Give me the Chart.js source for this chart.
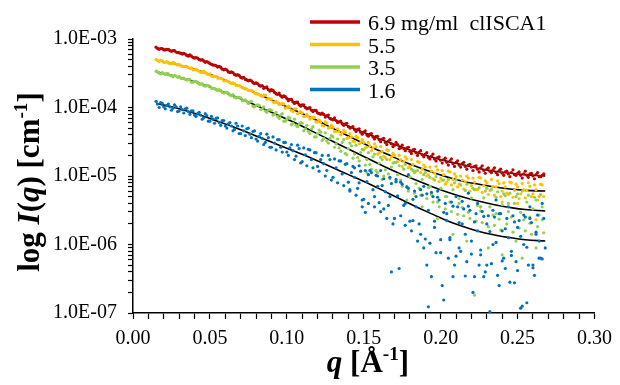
<!DOCTYPE html>
<html>
<head>
<meta charset="utf-8">
<script src="https://cdn.jsdelivr.net/npm/chart.js@4.4.0/dist/chart.umd.min.js"></script>
<style>
  html, body { margin: 0; padding: 0; background: #fff; }
  #wrap { width: 620px; height: 385px; position: relative; }
</style>
</head>
<body>
<div id="wrap"><canvas id="saxsChart"></canvas></div>
<script>
// q values [1/A], two interleaved grids of the measured curves
const qValues = [
  0.015, 0.017, 0.019, 0.021, 0.023, 0.025, 0.027, 0.029, 0.031, 0.033,
  0.035, 0.037, 0.039, 0.041, 0.043, 0.045, 0.047, 0.049, 0.051, 0.053,
  0.055, 0.057, 0.059, 0.061, 0.063, 0.065, 0.067, 0.069, 0.071, 0.073,
  0.075, 0.077, 0.079, 0.081, 0.083, 0.085, 0.087, 0.089, 0.091, 0.093,
  0.095, 0.097, 0.099, 0.101, 0.103, 0.105, 0.107, 0.109, 0.111, 0.113,
  0.115, 0.117, 0.119, 0.121, 0.123, 0.125, 0.127, 0.129, 0.131, 0.133,
  0.135, 0.137, 0.139, 0.141, 0.143, 0.145, 0.147, 0.149, 0.151, 0.153,
  0.155, 0.157, 0.159, 0.161, 0.163, 0.165, 0.167, 0.169, 0.171, 0.173,
  0.175, 0.177, 0.179, 0.181, 0.183, 0.185, 0.187, 0.189, 0.191, 0.193,
  0.195, 0.197, 0.199, 0.201, 0.203, 0.205, 0.207, 0.209, 0.211, 0.213,
  0.215, 0.217, 0.219, 0.221, 0.223, 0.225, 0.227, 0.229, 0.231, 0.233,
  0.235, 0.237, 0.239, 0.241, 0.243, 0.245, 0.247, 0.249, 0.251, 0.253,
  0.255, 0.257, 0.259, 0.261, 0.263, 0.265, 0.267
];
const qValuesB = [
  0.016, 0.018, 0.020, 0.022, 0.024, 0.026, 0.028, 0.030, 0.032, 0.034,
  0.036, 0.038, 0.040, 0.042, 0.044, 0.046, 0.048, 0.050, 0.052, 0.054,
  0.056, 0.058, 0.060, 0.062, 0.064, 0.066, 0.068, 0.070, 0.072, 0.074,
  0.076, 0.078, 0.080, 0.082, 0.084, 0.086, 0.088, 0.090, 0.092, 0.094,
  0.096, 0.098, 0.100, 0.102, 0.104, 0.106, 0.108, 0.110, 0.112, 0.114,
  0.116, 0.118, 0.120, 0.122, 0.124, 0.126, 0.128, 0.130, 0.132, 0.134,
  0.136, 0.138, 0.140, 0.142, 0.144, 0.146, 0.148, 0.150, 0.152, 0.154,
  0.156, 0.158, 0.160, 0.162, 0.164, 0.166, 0.168, 0.170, 0.172, 0.174,
  0.176, 0.178, 0.180, 0.182, 0.184, 0.186, 0.188, 0.190, 0.192, 0.194,
  0.196, 0.198, 0.200, 0.202, 0.204, 0.206, 0.208, 0.210, 0.212, 0.214,
  0.216, 0.218, 0.220, 0.222, 0.224, 0.226, 0.228, 0.230, 0.232, 0.234,
  0.236, 0.238, 0.240, 0.242, 0.244, 0.246, 0.248, 0.250, 0.252, 0.254,
  0.256, 0.258, 0.260, 0.262, 0.264, 0.266
];

// measured intensities, stored as log10(I [1/cm]) - grid A
const logI_69 = [
  -3.12, -3.15, -3.14, -3.16, -3.15, -3.18, -3.17, -3.20, -3.21, -3.21,
  -3.24, -3.23, -3.27, -3.27, -3.30, -3.30, -3.34, -3.34, -3.37, -3.38,
  -3.41, -3.41, -3.45, -3.45, -3.49, -3.49, -3.53, -3.53, -3.57, -3.59,
  -3.61, -3.61, -3.65, -3.65, -3.69, -3.72, -3.70, -3.76, -3.75, -3.80,
  -3.79, -3.85, -3.84, -3.90, -3.88, -3.94, -3.92, -3.98, -3.96, -4.02,
  -4.00, -4.06, -4.04, -4.09, -4.08, -4.14, -4.11, -4.17, -4.15, -4.22,
  -4.20, -4.26, -4.23, -4.30, -4.28, -4.35, -4.31, -4.39, -4.34, -4.42,
  -4.38, -4.46, -4.42, -4.50, -4.45, -4.54, -4.47, -4.57, -4.51, -4.60,
  -4.55, -4.63, -4.58, -4.67, -4.61, -4.70, -4.63, -4.72, -4.66, -4.75,
  -4.68, -4.78, -4.72, -4.81, -4.74, -4.84, -4.75, -4.86, -4.78, -4.87,
  -4.80, -4.90, -4.83, -4.92, -4.85, -4.94, -4.85, -4.96, -4.88, -4.95,
  -4.88, -4.98, -4.90, -4.99, -4.93, -5.01, -4.91, -4.99, -4.94, -5.03,
  -4.93, -5.02, -4.96, -5.04, -4.95, -5.01, -4.97
];
const logI_55 = [
  -3.30, -3.33, -3.32, -3.34, -3.35, -3.36, -3.35, -3.38, -3.39, -3.40,
  -3.40, -3.43, -3.45, -3.44, -3.47, -3.49, -3.49, -3.52, -3.54, -3.54,
  -3.57, -3.57, -3.61, -3.61, -3.64, -3.64, -3.68, -3.68, -3.71, -3.73,
  -3.75, -3.75, -3.79, -3.80, -3.83, -3.82, -3.88, -3.87, -3.92, -3.91,
  -3.96, -3.94, -4.01, -3.98, -4.04, -4.02, -4.09, -4.06, -4.13, -4.10,
  -4.17, -4.14, -4.21, -4.18, -4.26, -4.21, -4.30, -4.26, -4.35, -4.31,
  -4.40, -4.33, -4.45, -4.38, -4.49, -4.42, -4.53, -4.47, -4.59, -4.51,
  -4.63, -4.53, -4.68, -4.57, -4.71, -4.62, -4.76, -4.67, -4.80, -4.70,
  -4.86, -4.72, -4.88, -4.76, -4.93, -4.79, -4.95, -4.84, -5.00, -4.87,
  -5.04, -4.86, -5.08, -4.92, -5.12, -4.93, -5.13, -4.97, -5.16, -5.00,
  -5.19, -5.00, -5.22, -5.03, -5.20, -5.02, -5.24, -5.07, -5.27, -5.05,
  -5.28, -5.07, -5.30, -5.10, -5.25, -5.09, -5.31, -5.12, -5.33, -5.11,
  -5.32, -5.10, -5.30, -5.13, -5.35, -5.12, -5.30
];
const logI_35 = [
  -3.47, -3.50, -3.49, -3.52, -3.51, -3.54, -3.53, -3.56, -3.57, -3.57,
  -3.60, -3.59, -3.63, -3.62, -3.66, -3.65, -3.69, -3.68, -3.72, -3.72,
  -3.75, -3.75, -3.79, -3.78, -3.82, -3.81, -3.86, -3.85, -3.90, -3.89,
  -3.94, -3.91, -3.99, -3.96, -4.03, -3.99, -4.07, -4.03, -4.11, -4.07,
  -4.16, -4.09, -4.20, -4.14, -4.25, -4.17, -4.28, -4.22, -4.34, -4.26,
  -4.38, -4.28, -4.43, -4.33, -4.48, -4.37, -4.52, -4.41, -4.58, -4.46,
  -4.64, -4.47, -4.69, -4.52, -4.74, -4.55, -4.78, -4.61, -4.84, -4.66,
  -4.90, -4.68, -4.95, -4.73, -5.00, -4.76, -5.04, -4.81, -5.09, -4.85,
  -5.15, -4.83, -5.22, -4.90, -5.25, -4.92, -5.28, -4.98, -5.33, -5.02,
  -5.38, -5.01, -5.45, -5.06, -5.48, -5.05, -5.52, -5.10, -5.56, -5.13,
  -5.58, -5.12, -5.62, -5.18, -5.66, -5.17, -5.68, -5.22, -5.74, -5.20,
  -5.72, -5.23, -5.79, -5.26, -5.70, -5.25, -5.82, -5.30, -5.76, -5.22,
  -5.80, -5.28, -5.85, -5.31, -5.74, -5.27, -5.83
];
const logI_16 = [
  -3.91, -4.00, -3.94, -4.02, -3.95, -4.04, -3.96, -4.06, -3.99, -4.08,
  -4.01, -4.10, -4.05, -4.13, -4.07, -4.17, -4.09, -4.20, -4.13, -4.23,
  -4.15, -4.26, -4.19, -4.30, -4.22, -4.34, -4.23, -4.38, -4.27, -4.41,
  -4.30, -4.44, -4.34, -4.49, -4.38, -4.54, -4.39, -4.58, -4.43, -4.62,
  -4.47, -4.65, -4.51, -4.70, -4.54, -4.76, -4.55, -4.81, -4.59, -4.85,
  -4.62, -4.88, -4.66, -4.93, -4.70, -5.00, -4.70, -5.06, -4.75, -5.10,
  -4.78, -5.14, -4.82, -5.20, -4.86, -5.28, -4.85, -5.35, -4.92, -5.40,
  -4.95, -5.45, -5.00, -5.52, -5.04, -5.62, -5.02, -5.70, -5.08, -6.35,
  -5.12, -5.72, -5.18, -5.80, -5.22, -5.95, -5.20, -6.05, -5.26, -5.98,
  -5.30, -6.12, -5.35, -6.60, -5.40, -6.20, -5.38, -6.30, -5.45, -6.10,
  -5.48, -6.25, -5.50, -6.70, -5.55, -6.30, -5.52, -6.40, -5.58, -6.28,
  -5.60, -6.45, -5.55, -6.20, -5.62, -6.55, -5.58, -6.25, -5.65, -6.90,
  -5.60, -6.30, -5.68, -6.45, -5.57, -6.20, -5.62
];

// grid B
const logI_69b = [
  -3.14, -3.14, -3.16, -3.15, -3.17, -3.17, -3.19, -3.20, -3.22, -3.22,
  -3.25, -3.25, -3.28, -3.28, -3.31, -3.32, -3.33, -3.36, -3.38, -3.39,
  -3.40, -3.44, -3.44, -3.48, -3.48, -3.52, -3.52, -3.56, -3.56, -3.60,
  -3.60, -3.64, -3.64, -3.68, -3.68, -3.71, -3.74, -3.74, -3.78, -3.81,
  -3.83, -3.83, -3.87, -3.88, -3.92, -3.92, -3.96, -3.96, -4.00, -4.01,
  -4.04, -4.04, -4.08, -4.10, -4.10, -4.12, -4.16, -4.18, -4.19, -4.21,
  -4.24, -4.24, -4.28, -4.29, -4.32, -4.32, -4.36, -4.36, -4.40, -4.39,
  -4.43, -4.42, -4.47, -4.46, -4.51, -4.49, -4.53, -4.55, -4.54, -4.59,
  -4.60, -4.59, -4.64, -4.62, -4.66, -4.65, -4.69, -4.68, -4.73, -4.71,
  -4.75, -4.73, -4.77, -4.76, -4.80, -4.78, -4.82, -4.80, -4.84, -4.82,
  -4.86, -4.84, -4.87, -4.86, -4.90, -4.88, -4.92, -4.90, -4.93, -4.91,
  -4.95, -4.92, -4.96, -4.94, -4.97, -4.95, -4.98, -4.96, -4.99, -4.97,
  -4.99, -4.97, -5.00, -4.98, -5.01, -4.99
];
const logI_55b = [
  -3.31, -3.31, -3.34, -3.33, -3.36, -3.34, -3.37, -3.37, -3.40, -3.40,
  -3.42, -3.42, -3.45, -3.46, -3.49, -3.47, -3.51, -3.51, -3.55, -3.55,
  -3.57, -3.58, -3.61, -3.62, -3.65, -3.65, -3.68, -3.69, -3.72, -3.73,
  -3.75, -3.76, -3.80, -3.81, -3.84, -3.82, -3.87, -3.88, -3.93, -3.93,
  -3.95, -3.95, -4.00, -4.00, -4.06, -4.02, -4.07, -4.08, -4.13, -4.13,
  -4.15, -4.15, -4.21, -4.21, -4.27, -4.23, -4.29, -4.29, -4.35, -4.35,
  -4.37, -4.36, -4.44, -4.43, -4.50, -4.44, -4.51, -4.51, -4.58, -4.56,
  -4.59, -4.57, -4.66, -4.64, -4.73, -4.63, -4.72, -4.70, -4.79, -4.76,
  -4.79, -4.75, -4.86, -4.83, -4.93, -4.80, -4.90, -4.87, -4.98, -4.93,
  -4.96, -4.91, -5.03, -4.98, -5.09, -4.94, -5.05, -5.01, -5.12, -5.06,
  -5.08, -5.03, -5.14, -5.09, -5.20, -5.03, -5.14, -5.10, -5.21, -5.15,
  -5.16, -5.11, -5.22, -5.16, -5.27, -5.10, -5.21, -5.16, -5.26, -5.20,
  -5.21, -5.15, -5.26, -5.20, -5.30, -5.13
];
const logI_35b = [
  -3.48, -3.51, -3.50, -3.50, -3.53, -3.55, -3.54, -3.55, -3.58, -3.59,
  -3.59, -3.63, -3.62, -3.63, -3.66, -3.68, -3.68, -3.69, -3.72, -3.74,
  -3.74, -3.78, -3.78, -3.79, -3.83, -3.85, -3.85, -3.86, -3.90, -3.92,
  -3.92, -3.98, -3.97, -3.97, -4.02, -4.05, -4.04, -4.04, -4.10, -4.13,
  -4.11, -4.20, -4.17, -4.16, -4.23, -4.26, -4.24, -4.23, -4.31, -4.35,
  -4.31, -4.43, -4.38, -4.36, -4.45, -4.49, -4.45, -4.43, -4.53, -4.59,
  -4.51, -4.67, -4.60, -4.56, -4.68, -4.73, -4.66, -4.62, -4.76, -4.83,
  -4.72, -4.92, -4.81, -4.76, -4.91, -4.97, -4.87, -4.80, -4.98, -5.06,
  -4.90, -5.16, -5.01, -4.92, -5.11, -5.18, -5.05, -4.95, -5.17, -5.27,
  -5.06, -5.38, -5.18, -5.06, -5.30, -5.38, -5.20, -5.06, -5.33, -5.46,
  -5.21, -5.53, -5.32, -5.20, -5.43, -5.51, -5.32, -5.18, -5.45, -5.57,
  -5.31, -5.63, -5.42, -5.29, -5.52, -5.60, -5.40, -5.26, -5.53, -5.64,
  -5.38, -5.69, -5.48, -5.35, -5.57, -5.64
];
const logI_16b = [
  -3.95, -3.93, -3.99, -3.97, -3.99, -4.01, -3.99, -4.05, -4.03, -4.02,
  -4.06, -4.05, -4.11, -4.09, -4.11, -4.15, -4.12, -4.20, -4.17, -4.16,
  -4.22, -4.19, -4.27, -4.24, -4.27, -4.32, -4.27, -4.38, -4.34, -4.31,
  -4.39, -4.35, -4.46, -4.42, -4.45, -4.51, -4.44, -4.58, -4.52, -4.47,
  -4.58, -4.51, -4.65, -4.59, -4.63, -4.71, -4.60, -4.79, -4.69, -4.61,
  -4.76, -4.66, -4.86, -4.76, -4.82, -4.92, -4.76, -5.02, -4.88, -4.78,
  -4.97, -4.83, -5.09, -4.95, -5.02, -5.18, -4.93, -5.34, -5.08, -4.92,
  -5.20, -4.99, -5.39, -5.14, -5.23, -5.43, -5.11, -5.62, -5.29, -5.09,
  -5.43, -5.16, -5.66, -5.34, -5.45, -5.70, -5.28, -5.92, -5.50, -5.24,
  -5.66, -5.31, -5.93, -5.53, -5.65, -5.93, -5.44, -6.17, -5.68, -5.37,
  -5.85, -5.44, -6.14, -5.67, -5.80, -6.08, -5.59, -6.30, -5.81, -5.50,
  -5.97, -5.55, -6.24, -5.77, -5.90, -6.16, -5.67, -6.38, -5.88, -5.57,
  -6.04, -5.62, -6.30, -5.82, -5.95, -6.21
];

// extra noisy points at high q (their own q positions)
const extraQ_55 = [0.226, 0.240, 0.250, 0.262];
const extraLogI_55 = [-5.45, -5.38, -5.40, -5.64];
const extraQ_35 = [
  0.152, 0.162, 0.171, 0.178, 0.183, 0.188, 0.193, 0.198, 0.203, 0.208,
  0.212, 0.217, 0.222, 0.226, 0.231, 0.236, 0.240, 0.244, 0.249, 0.253,
  0.258, 0.262, 0.266
];
const extraLogI_35 = [
  -4.95, -5.05, -4.80, -5.35, -4.95, -5.45, -5.15, -5.62, -5.30, -5.85,
  -5.40, -5.95, -6.74, -5.45, -6.05, -5.55, -6.15, -5.40, -5.95, -6.20,
  -5.60, -6.05, -5.45
];
const extraQ_16 = [
  0.141, 0.144, 0.147, 0.149, 0.151, 0.153, 0.157, 0.159, 0.161, 0.163,
  0.167, 0.168, 0.171, 0.174, 0.177, 0.179, 0.182, 0.184, 0.187, 0.189,
  0.191, 0.192, 0.194, 0.196, 0.198, 0.200, 0.202, 0.204, 0.206, 0.208,
  0.210, 0.212, 0.214, 0.216, 0.218, 0.220, 0.222, 0.224, 0.226, 0.228,
  0.230, 0.232, 0.234, 0.236, 0.238, 0.240, 0.242, 0.244, 0.246, 0.248,
  0.250, 0.252, 0.254, 0.256, 0.258, 0.260, 0.262, 0.264, 0.266, 0.268
];
const extraLogI_16 = [
  -5.22, -4.88, -5.10, -5.45, -5.53, -4.98, -5.30, -5.15, -4.92, -5.48,
  -5.30, -6.40, -5.05, -5.58, -5.40, -4.98, -5.65, -5.30, -5.85, -5.15,
  -6.30, -6.91, -6.47, -5.75, -5.22, -6.12, -6.81, -5.55, -5.90, -6.47,
  -5.30, -6.05, -5.70, -6.46, -5.25, -5.95, -6.47, -5.40, -6.15, -6.47,
  -5.70, -6.98, -6.00, -5.35, -6.60, -5.80, -6.35, -5.45, -6.10, -6.56,
  -5.75, -6.93, -6.00, -6.85, -5.45, -6.34, -5.85, -6.20, -5.40, -6.05
];

// model fits (black curves), log10(I)
const fitQ = [
  0.015, 0.025, 0.035, 0.045, 0.055, 0.065, 0.075, 0.085, 0.095, 0.105,
  0.115, 0.125, 0.135, 0.145, 0.155, 0.165, 0.175, 0.185, 0.195, 0.205,
  0.215, 0.225, 0.235, 0.245, 0.255, 0.268
];
const fitLogI_69 = [
  -3.13, -3.17, -3.23, -3.31, -3.40, -3.50, -3.60, -3.70, -3.81, -3.92,
  -4.02, -4.12, -4.22, -4.32, -4.41, -4.50, -4.58, -4.66, -4.73, -4.79,
  -4.84, -4.89, -4.93, -4.96, -4.98, -5.00
];
const fitLogI_55 = [
  -3.31, -3.35, -3.41, -3.48, -3.56, -3.65, -3.74, -3.84, -3.94, -4.04,
  -4.14, -4.25, -4.36, -4.47, -4.58, -4.68, -4.78, -4.87, -4.95, -5.02,
  -5.08, -5.12, -5.16, -5.19, -5.21, -5.22
];
const fitLogI_35 = [
  -3.48, -3.53, -3.59, -3.66, -3.74, -3.83, -3.92, -4.02, -4.12, -4.22,
  -4.33, -4.44, -4.55, -4.66, -4.77, -4.88, -4.98, -5.07, -5.16, -5.24,
  -5.31, -5.37, -5.42, -5.46, -5.49, -5.51
];
const fitLogI_16 = [
  -3.94, -3.99, -4.05, -4.12, -4.20, -4.28, -4.37, -4.46, -4.55, -4.64,
  -4.73, -4.83, -4.93, -5.03, -5.13, -5.24, -5.35, -5.46, -5.56, -5.66,
  -5.74, -5.81, -5.86, -5.90, -5.93, -5.95
];

const seriesLabels = ['6.9 mg/ml  clISCA1', '5.5', '3.5', '1.6'];
const seriesColors = ['#C00000', '#FFC000', '#92D050', '#0070C0'];

const xTickLabels = ['0.00', '0.05', '0.10', '0.15', '0.20', '0.25', '0.30'];
const yMajorTicks = [1e-7, 1e-6, 1e-5, 1e-4, 1e-3];
const yTickLabels = ['1.0E-07', '1.0E-06', '1.0E-05', '1.0E-04', '1.0E-03'];

const FONT = '"Liberation Serif", "Times New Roman", serif';

function toPoints(qs, logs) {
    return qs.map((q, i) => ({ x: q, y: Math.pow(10, logs[i]) }));
}

// log axis ticks: decades plus 2..9 minor marks
const yTicks = [];
const yLabelFor = [];
yMajorTicks.forEach((major, k) => {
    yTicks.push({ value: major });
    yLabelFor.push(yTickLabels[k]);
    if (k < yMajorTicks.length - 1) {
        for (let m = 2; m <= 9; m++) {
            yTicks.push({ value: m * major });
            yLabelFor.push('');
        }
    }
});
const xTicks = [];
for (let i = 0; i <= 30; i++) xTicks.push({ value: i / 100 });

function scatterSet(idx, qs, logs, order) {
    return {
        label: seriesLabels[idx],
        data: toPoints(qs, logs),
        backgroundColor: seriesColors[idx],
        borderWidth: 0,
        pointRadius: 1.6,
        showLine: false,
        order: order
    };
}
function fitSet(logs) {
    return {
        label: '',
        data: toPoints(fitQ, logs),
        showLine: true,
        borderColor: '#000',
        borderWidth: 1.6,
        pointRadius: 0,
        tension: 0.4,
        order: 10
    };
}

// rich text helper for titles (italics + superscript)
function drawRich(ctx, parts, size) {
    const fontOf = p => (p.italic ? 'italic ' : '') + 'bold ' + (p.sup ? size * 0.62 : size) + 'px ' + FONT;
    const widths = parts.map(p => {
        ctx.font = fontOf(p);
        return ctx.measureText(p.t).width;
    });
    let x = -widths.reduce((a, b) => a + b, 0) / 2;
    parts.forEach((p, i) => {
        ctx.font = fontOf(p);
        ctx.fillText(p.t, x, p.sup ? -size * 0.38 : 0);
        x += widths[i];
    });
}

const decorations = {
    id: 'decorations',
    afterDraw(chart) {
        const ctx = chart.ctx;
        ctx.save();
        ctx.fillStyle = '#000';
        ctx.textBaseline = 'alphabetic';
        ctx.textAlign = 'left';

        // y title
        ctx.save();
        ctx.translate(39, 182);
        ctx.rotate(-Math.PI / 2);
        drawRich(ctx, [
            { t: 'log ' }, { t: 'I', italic: true }, { t: '(' }, { t: 'q', italic: true },
            { t: ') [cm' }, { t: '-1', sup: true }, { t: ']' }
        ], 31);
        ctx.restore();

        // x title
        ctx.save();
        ctx.translate(368, 372);
        drawRich(ctx, [
            { t: 'q', italic: true }, { t: ' [Å' }, { t: '-1', sup: true }, { t: ']' }
        ], 31);
        ctx.restore();

        // legend
        const rows = [22, 44.5, 67, 89.5];
        rows.forEach((y, i) => {
            ctx.strokeStyle = seriesColors[i];
            ctx.lineWidth = 3.5;
            ctx.beginPath();
            ctx.moveTo(310, y);
            ctx.lineTo(360, y);
            ctx.stroke();
            ctx.font = '22px ' + FONT;
            ctx.fillStyle = '#000';
            ctx.fillText(seriesLabels[i], 368, y + 8);
        });
        ctx.restore();
    }
};

const ctx = document.getElementById('saxsChart').getContext('2d');
new Chart(ctx, {
    type: 'scatter',
    data: {
        datasets: [
            fitSet(fitLogI_69),
            fitSet(fitLogI_55),
            fitSet(fitLogI_35),
            fitSet(fitLogI_16),
            scatterSet(0, qValues, logI_69, 4),
            scatterSet(0, qValuesB, logI_69b, 4),
            scatterSet(1, qValues, logI_55, 3),
            scatterSet(1, qValuesB, logI_55b, 3),
            scatterSet(1, extraQ_55, extraLogI_55, 3),
            scatterSet(2, qValues, logI_35, 2),
            scatterSet(2, qValuesB, logI_35b, 2),
            scatterSet(2, extraQ_35, extraLogI_35, 2),
            scatterSet(3, qValues, logI_16, 1),
            scatterSet(3, qValuesB, logI_16b, 1),
            scatterSet(3, extraQ_16, extraLogI_16, 1)
        ]
    },
    options: {
        responsive: true,
        maintainAspectRatio: false,
        animation: false,
        layout: { padding: { left: 0, right: 19, top: 39, bottom: 0 } },
        plugins: {
            legend: { display: false },
            tooltip: { enabled: false }
        },
        scales: {
            x: {
                type: 'linear',
                min: 0,
                max: 0.3,
                border: { color: '#000', width: 1.5 },
                grid: { drawOnChartArea: false, drawTicks: true, tickLength: 6, tickColor: '#000', tickWidth: 1.2 },
                ticks: {
                    autoSkip: false,
                    maxRotation: 0,
                    padding: 8,
                    color: '#000',
                    font: { family: FONT, size: 20 },
                    callback: (v, i) => (i % 5 === 0 ? xTickLabels[i / 5] : '')
                },
                afterBuildTicks(scale) { scale.ticks = xTicks.map(t => ({ value: t.value })); },
                afterFit(scale) { scale.height = 72; }
            },
            y: {
                type: 'logarithmic',
                min: 1e-7,
                max: 1e-3,
                border: { color: '#000', width: 1.5 },
                grid: { drawOnChartArea: false, drawTicks: true, tickLength: 5, tickColor: '#000', tickWidth: 1.2 },
                ticks: {
                    autoSkip: false,
                    padding: 11,
                    color: '#000',
                    font: { family: FONT, size: 20 },
                    callback: (v, i) => yLabelFor[i]
                },
                afterBuildTicks(scale) { scale.ticks = yTicks.map(t => ({ value: t.value })); },
                afterFit(scale) { scale.width = 133; }
            }
        }
    },
    plugins: [decorations]
});
</script>
</body>
</html>
